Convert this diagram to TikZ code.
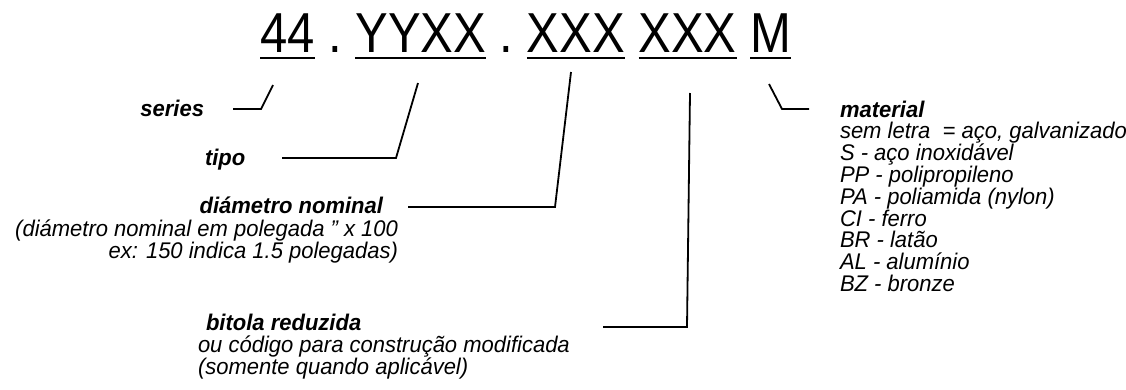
\documentclass[tikz,border=0pt]{standalone}
\usepackage{fontspec}
\setmainfont{Liberation Sans}
\newcommand\vsx[1]{\scalebox{1}[1.03]{#1}}
\newcommand\vbig[1]{\scalebox{1}[1.15]{#1}}
\begin{document}
\begin{tikzpicture}[x=1pt,y=-1pt,
  lab/.style={inner sep=0pt, outer sep=0pt, font=\fontsize{22}{22}\selectfont\itshape},
  labb/.style={inner sep=0pt, outer sep=0pt, font=\fontsize{22}{22}\selectfont\bfseries\itshape},
  big/.style={inner sep=0pt, outer sep=0pt, font=\fontsize{49}{49}\selectfont},
  ul/.style={line width=2.3pt},
  conn/.style={line width=1.8pt, line join=miter}]
\useasboundingbox (0,0) rectangle (1126,389);
% title
\node[big, anchor=base west] (t44) at (260,52) {\vbig{44}};
\node[big, anchor=base west] (d1) at (328.1,52) {\vbig{.}};
\node[big, anchor=base west] (tY) at (355.4,52) {\vbig{YYXX}};
\node[big, anchor=base west] (d2) at (499.7,52) {\vbig{.}};
\node[big, anchor=base west] (tX1) at (526.9,52) {\vbig{XXX}};
\node[big, anchor=base west] (tX2) at (638.5,52) {\vbig{XXX}};
\node[big, anchor=base west] (tM) at (750.2,52) {\vbig{M}};
\foreach \n in {t44,tY,tX1,tX2,tM}
  \draw[ul] ([yshift=-6pt]\n.base west) -- ([yshift=-6pt]\n.base east);
% left labels
\node[labb, anchor=base east] (series) at (204,116) {\vsx{series}};
\node[labb, anchor=base west] (tipo) at (205,165) {\vsx{tipo}};
\node[labb, anchor=base east] (diam) at (383,213) {\vsx{diámetro nominal}};
\node[lab, anchor=base east] (diam2) at (398,236) {\vsx{(diámetro nominal em polegada \symbol{34} x 100}};
\node[lab, anchor=base east] (diam3) at (398,258) {\vsx{ex: 150 indica 1.5 polegadas)}};
\node[labb, anchor=base west] (bitola) at (206,330) {\vsx{bitola reduzida}};
\node[lab, anchor=base west] (bitola2) at (198,352) {\vsx{ou código para construção modificada}};
\node[lab, anchor=base west] (bitola3) at (198,374) {\vsx{(somente quando aplicável)}};
% material block
\node[labb, anchor=base west] (mat) at (840,117) {\vsx{material}};
\foreach \t [count=\i] in {{sem letra~~= aço, galvanizado},{S - aço inoxidável},{PP - polipropileno},{PA - poliamida (nylon)},{CI - ferro},{BR - latão},{AL - alumínio},{BZ - bronze}}
  \node[lab, anchor=base west] (m\i) at (840,{117+21.8*\i}) {\vsx{\t}};
% connector points
\coordinate (sA) at (233,109); \coordinate (sB) at (261,109); \coordinate (sC) at (273,85);
\coordinate (pA) at (282,158); \coordinate (pB) at (396,158); \coordinate (pC) at (418,83);
\coordinate (nA) at (408,207); \coordinate (nB) at (555,207); \coordinate (nC) at (571,72);
\coordinate (bA) at (603,327); \coordinate (bB) at (687,327); \coordinate (bC) at (690,93);
\coordinate (mA) at (769,84); \coordinate (mB) at (782,109); \coordinate (mC) at (809,109);
\draw[conn] (sA) -- (sB) -- (sC);
\draw[conn] (pA) -- (pB) -- (pC);
\draw[conn] (nA) -- (nB) -- (nC);
\draw[conn] (bA) -- (bB) -- (bC);
\draw[conn] (mA) -- (mB) -- (mC);
\end{tikzpicture}
\end{document}
